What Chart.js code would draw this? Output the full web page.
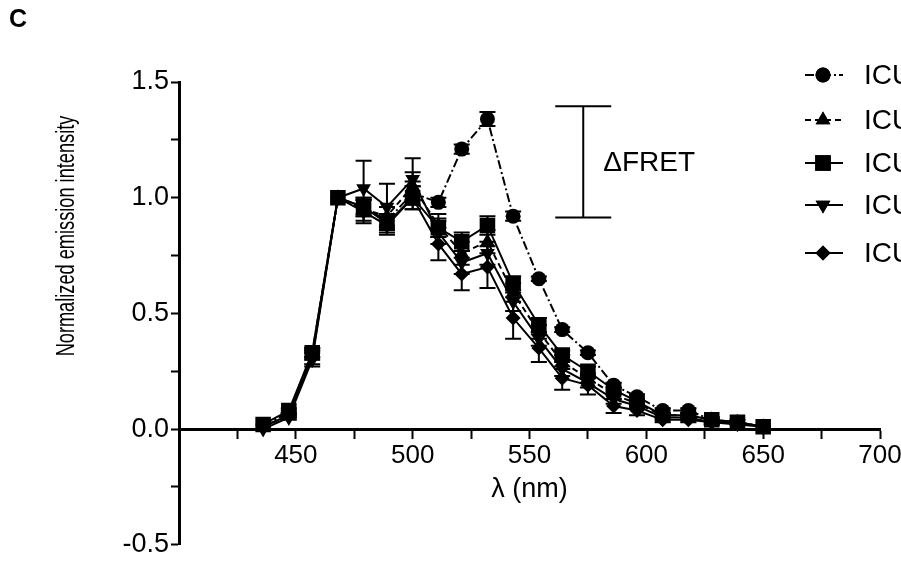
<!DOCTYPE html>
<html>
<head>
<meta charset="utf-8">
<script src="https://cdn.jsdelivr.net/npm/chart.js@4.4.1/dist/chart.umd.min.js"></script>
<style>
  html, body { margin: 0; padding: 0; background: #fff; overflow: hidden; }
  #wrap { width: 901px; height: 563px; overflow: hidden; position: relative; }
  #c { position: absolute; left: 0; top: 0; }
</style>
</head>
<body>
<div id="wrap"><canvas id="c" width="960" height="563"></canvas></div>
<script>
// ── Data ──
const wavelengths = [436, 447, 457, 468, 479, 489, 500, 511, 521, 532, 543, 554, 564, 575, 586, 596, 607, 618, 628, 639, 650];

const seriesLabels = ['ICU-1', 'ICU-2', 'ICU-3', 'ICU-4', 'ICU-5'];

const icu1 = [0.02, 0.07, 0.33, 1.00, 0.96, 0.90, 1.02, 0.98, 1.21, 1.34, 0.92, 0.65, 0.43, 0.33, 0.19, 0.14, 0.08, 0.08, 0.04, 0.03, 0.01];
const icu2 = [0.01, 0.06, 0.32, 1.00, 0.95, 0.92, 1.05, 0.88, 0.76, 0.81, 0.59, 0.42, 0.29, 0.22, 0.15, 0.11, 0.06, 0.06, 0.04, 0.03, 0.01];
const icu3 = [0.02, 0.08, 0.33, 1.00, 0.96, 0.89, 1.00, 0.87, 0.81, 0.88, 0.63, 0.45, 0.32, 0.25, 0.17, 0.12, 0.06, 0.06, 0.04, 0.03, 0.01];
const icu4 = [0.00, 0.05, 0.30, 1.00, 1.04, 0.96, 1.08, 0.85, 0.72, 0.76, 0.55, 0.39, 0.26, 0.20, 0.13, 0.10, 0.05, 0.05, 0.03, 0.03, 0.01];
const icu5 = [0.01, 0.06, 0.31, 1.00, 0.94, 0.88, 1.00, 0.80, 0.67, 0.70, 0.48, 0.35, 0.22, 0.19, 0.10, 0.08, 0.04, 0.04, 0.03, 0.02, 0.01];

// error bars (± SD)
const icu1Err = [0, 0.01, 0.02, 0, 0.03, 0.03, 0.05, 0.02, 0.02, 0.03, 0.02, 0.01, 0.01, 0.01, 0.01, 0.01, 0.01, 0.01, 0, 0, 0];
const icu2Err = [0, 0.01, 0.02, 0, 0.05, 0.04, 0.06, 0.05, 0.05, 0.05, 0.04, 0.03, 0.03, 0.02, 0.02, 0.01, 0.01, 0.01, 0.01, 0, 0];
const icu3Err = [0, 0.01, 0.02, 0, 0.04, 0.04, 0.05, 0.04, 0.04, 0.04, 0.03, 0.03, 0.02, 0.02, 0.01, 0.01, 0.01, 0.01, 0.01, 0, 0];
const icu4Err = [0, 0.01, 0.03, 0, 0.12, 0.10, 0.09, 0.05, 0.05, 0.05, 0.04, 0.03, 0.03, 0.02, 0.02, 0.01, 0.01, 0.01, 0.01, 0.01, 0];
const icu5Err = [0, 0.01, 0.03, 0, 0.05, 0.04, 0.05, 0.07, 0.07, 0.09, 0.09, 0.06, 0.05, 0.04, 0.03, 0.02, 0.01, 0.01, 0.01, 0, 0];

// ΔFRET bracket (data units)
const fretX = 573;
const fretTop = 1.395;
const fretBottom = 0.914;

const FONT = '"Liberation Sans", Arial, sans-serif';

// ── Series styling ──
const STYLES = [
  { pointStyle: 'circle', radius: 7.5, rotation: 0, dash: [9, 3, 2, 3] },
  { pointStyle: 'triangle', radius: 8.5, rotation: 0, dash: [6, 4] },
  { pointStyle: 'rect', radius: 11, rotation: 0, dash: [] },
  { pointStyle: 'triangle', radius: 8.5, rotation: 180, dash: [] },
  { pointStyle: 'rectRot', radius: 7.5, rotation: 0, dash: [] }
];

const values = [icu1, icu2, icu3, icu4, icu5];
const errors = [icu1Err, icu2Err, icu3Err, icu4Err, icu5Err];

const datasets = values.map((vals, i) => ({
  label: seriesLabels[i],
  data: wavelengths.map((w, j) => ({ x: w, y: vals[j] })),
  errs: errors[i],
  showLine: true,
  borderColor: '#000',
  borderWidth: 2,
  borderDash: STYLES[i].dash,
  pointStyle: STYLES[i].pointStyle,
  pointRadius: STYLES[i].radius,
  pointRotation: STYLES[i].rotation,
  pointBackgroundColor: '#000',
  pointBorderColor: '#000',
  pointBorderWidth: 0,
  tension: 0
}));

// ── Error bars ──
const errorBars = {
  id: 'errorBars',
  beforeDatasetsDraw(chart) {
    const { ctx, scales: { x, y } } = chart;
    ctx.save();
    ctx.strokeStyle = '#000';
    ctx.lineWidth = 2;
    chart.data.datasets.forEach(ds => {
      ds.data.forEach((p, j) => {
        const e = ds.errs[j];
        if (!e) return;
        const px = x.getPixelForValue(p.x);
        const y1 = y.getPixelForValue(p.y + e);
        const y2 = y.getPixelForValue(p.y - e);
        ctx.beginPath();
        ctx.moveTo(px, y1); ctx.lineTo(px, y2);
        ctx.moveTo(px - 8, y1); ctx.lineTo(px + 8, y1);
        ctx.moveTo(px - 8, y2); ctx.lineTo(px + 8, y2);
        ctx.stroke();
      });
    });
    ctx.restore();
  }
};

// ── Titles, panel letter, ΔFRET bracket, legend ──
const decorations = {
  id: 'decorations',
  afterDraw(chart) {
    const { ctx, scales: { x, y } } = chart;
    ctx.save();
    ctx.fillStyle = '#000';
    ctx.strokeStyle = '#000';

    // panel letter
    ctx.font = 'bold 25px ' + FONT;
    ctx.textAlign = 'left';
    ctx.textBaseline = 'middle';
    ctx.fillText('C', 9, 20);

    // axis titles
    ctx.font = '27px ' + FONT;
    ctx.textAlign = 'center';
    ctx.fillText('λ (nm)', (x.left + x.right) / 2, 490);
    ctx.save();
    ctx.translate(67, 236);
    ctx.rotate(-Math.PI / 2);
    ctx.scale(0.7, 1);   // title is condensed in the original
    ctx.font = '26px ' + FONT;
    ctx.fillText('Normalized emission intensity', 0, 0);
    ctx.restore();

    // ΔFRET bracket
    const bx = x.getPixelForValue(fretX);
    const bt = y.getPixelForValue(fretTop);
    const bb = y.getPixelForValue(fretBottom);
    ctx.lineWidth = 2;
    ctx.beginPath();
    ctx.moveTo(bx, bt); ctx.lineTo(bx, bb);
    ctx.moveTo(bx - 28, bt); ctx.lineTo(bx + 28, bt);
    ctx.moveTo(bx - 28, bb); ctx.lineTo(bx + 28, bb);
    ctx.stroke();
    ctx.font = '28px ' + FONT;
    ctx.textAlign = 'left';
    ctx.fillText('ΔFRET', bx + 20, (bt + bb) / 2 + 1);

    // legend
    const rows = [75, 120, 163, 205, 253];
    chart.data.datasets.forEach((ds, i) => {
      const ly = rows[i];
      ctx.setLineDash(ds.borderDash);
      ctx.lineWidth = 2;
      ctx.beginPath();
      ctx.moveTo(805, ly); ctx.lineTo(843, ly);
      ctx.stroke();
      ctx.setLineDash([]);
      Chart.helpers.drawPoint(ctx, {
        pointStyle: ds.pointStyle, radius: ds.pointRadius, rotation: ds.pointRotation, borderWidth: 0
      }, 823, ly);
      ctx.fill();
      ctx.fillText(ds.label, 864, ly + 1);
    });
    ctx.restore();
  }
};

new Chart(document.getElementById('c'), {
  type: 'scatter',
  data: { datasets },
  options: {
    responsive: false,
    animation: false,
    layout: { padding: { left: 0, right: 80, top: 82, bottom: 14 } },
    plugins: { legend: { display: false }, tooltip: { enabled: false } },
    scales: {
      x: {
        type: 'linear',
        min: 400, max: 700,
        position: { y: 0 },
        border: { display: true, color: '#000', width: 3 },
        grid: {
          drawOnChartArea: false, drawTicks: true, tickLength: 8, tickWidth: 2,
          color: c => (c.tick && c.tick.value === 400 ? 'rgba(0,0,0,0)' : '#000')
        },
        ticks: {
          stepSize: 25, color: '#000', padding: 3, maxRotation: 0, autoSkip: false,
          font: { size: 26, family: FONT },
          callback: v => (v % 50 === 0 && v > 400 ? String(v) : '')
        }
      },
      y: {
        type: 'linear',
        min: -0.5, max: 1.5,
        border: { display: true, color: '#000', width: 3 },
        grid: { drawOnChartArea: false, drawTicks: true, tickLength: 8, tickWidth: 2, color: '#000' },
        ticks: {
          stepSize: 0.25, color: '#000', padding: 2, autoSkip: false,
          font: { size: 27, family: FONT },
          callback: v => (Math.abs(v * 2 - Math.round(v * 2)) < 1e-6 ? v.toFixed(1) : '')
        },
        afterFit(scale) { scale.width = 179; }
      }
    }
  },
  plugins: [errorBars, decorations]
});
</script>
</body>
</html>
